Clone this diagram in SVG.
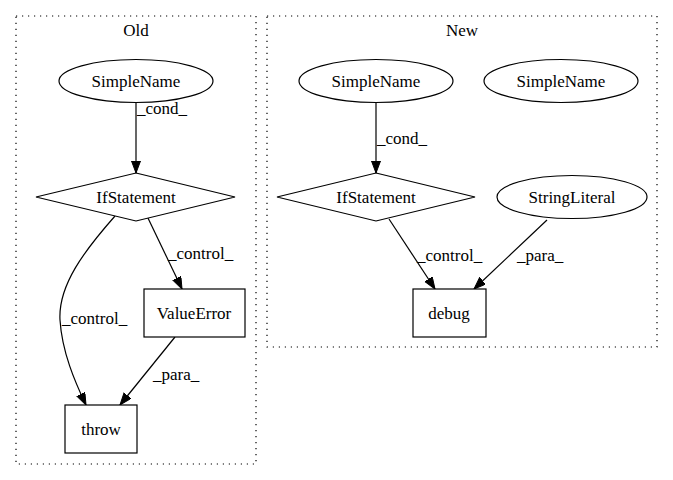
<svg xmlns="http://www.w3.org/2000/svg" width="673" height="480" viewBox="0 0 673 480">
<defs>
<style>
text{font-family:"Liberation Serif","Times New Roman",serif;font-size:17px;fill:#000;text-anchor:middle}
.cl{fill:none;stroke:#000;stroke-width:1.2;stroke-dasharray:1.2,4.8}
.n{fill:#fff;stroke:#000;stroke-width:1.2}
.e{fill:none;stroke:#000;stroke-width:1.2}
.lab{text-anchor:start}
</style>
<marker id="ah" markerUnits="userSpaceOnUse" markerWidth="14" markerHeight="10" refX="12" refY="4.5" orient="auto">
<path d="M0,0 L12,4.5 L0,9 Z" fill="#000" stroke="#000" stroke-width="1"/>
</marker>
</defs>
<rect width="673" height="480" fill="#fff"/>
<g id="cluster_old">
<rect class="cl" x="16" y="16" width="240" height="448"/>
<text x="136" y="36">Old</text>
</g>
<g id="cluster_new">
<rect class="cl" x="267" y="16" width="390" height="331"/>
<text x="462" y="36">New</text>
</g>
<g id="edges">
<path class="e" d="M136,102 L136,173" marker-end="url(#ah)"/>
<text class="lab" x="137" y="114">_cond_</text>
<path class="e" d="M147,216 L182,289" marker-end="url(#ah)"/>
<text class="lab" x="168" y="259">_control_</text>
<path class="e" d="M115,216 C85,250 58,285 60,320 C62,352 75,382 86,405" marker-end="url(#ah)"/>
<text class="lab" x="62" y="324">_control_</text>
<path class="e" d="M175,337 L120,405" marker-end="url(#ah)"/>
<text class="lab" x="153" y="380">_para_</text>
<path class="e" d="M376,102 L376,173" marker-end="url(#ah)"/>
<text class="lab" x="377" y="144">_cond_</text>
<path class="e" d="M389,219 L435,289" marker-end="url(#ah)"/>
<text class="lab" x="417" y="261">_control_</text>
<path class="e" d="M547,220 L474,289" marker-end="url(#ah)"/>
<text class="lab" x="517" y="261">_para_</text>
</g>
<g id="old_simplename">
<ellipse class="n" cx="136" cy="81" rx="77" ry="21.5"/>
<text x="136" y="87">SimpleName</text>
</g>
<g id="old_ifstatement">
<polygon class="n" points="136,173 235,197 136,221 36,197"/>
<text x="136" y="203">IfStatement</text>
</g>
<g id="old_valueerror">
<rect class="n" x="144" y="289" width="101" height="48"/>
<text x="194" y="319">ValueError</text>
</g>
<g id="old_throw">
<rect class="n" x="65" y="405" width="72" height="48"/>
<text x="101" y="435">throw</text>
</g>
<g id="new_simplename1">
<ellipse class="n" cx="376" cy="81" rx="77" ry="21.5"/>
<text x="376" y="87">SimpleName</text>
</g>
<g id="new_simplename2">
<ellipse class="n" cx="561" cy="81" rx="77" ry="21.5"/>
<text x="561" y="87">SimpleName</text>
</g>
<g id="new_ifstatement">
<polygon class="n" points="376,173 475,197 376,221 277,197"/>
<text x="376" y="203">IfStatement</text>
</g>
<g id="new_stringliteral">
<ellipse class="n" cx="572" cy="197" rx="75" ry="21.5"/>
<text x="572" y="203">StringLiteral</text>
</g>
<g id="new_debug">
<rect class="n" x="413" y="289" width="73" height="48"/>
<text x="449" y="319">debug</text>
</g>
</svg>
